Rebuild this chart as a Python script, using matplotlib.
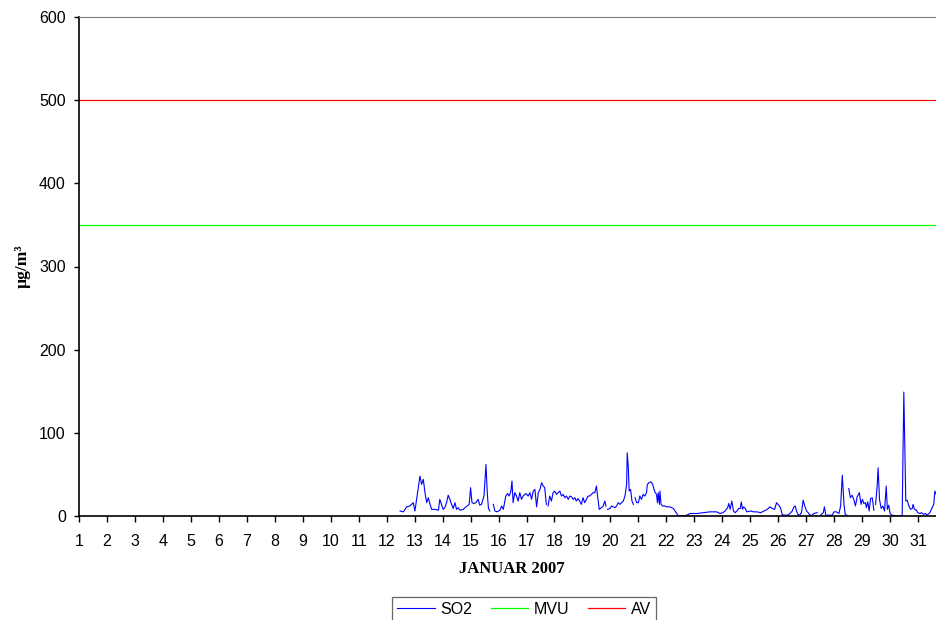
import matplotlib.pyplot as plt
import numpy as np

# hourly SO2 readings, January 2007 (day of month as fractional day), NaN = missing
day = [
    12.48, 12.60, 12.71, 12.83, 12.95, 13.01, 13.19, 13.25, 13.31, 13.37,
    13.43, 13.49, 13.55, 13.61, 13.73, 13.85, 13.90, 13.96, 14.02, 14.08,
    14.14, 14.20, 14.26, 14.32, 14.38, 14.44, 14.50, 14.56, 14.62, 14.74,
    14.80, 14.88, 14.95, 15.00, 15.05, 15.12, 15.19, 15.27, 15.33, 15.39,
    15.48, 15.55, 15.60, 15.64, 15.69, 15.74, 15.81, 15.87, 15.95, 16.05,
    16.11, 16.17, 16.26, 16.32, 16.38, 16.44, 16.48, 16.52, 16.58, 16.64,
    16.70, 16.76, 16.82, 16.88, 16.98, 17.06, 17.12, 17.18, 17.24, 17.30,
    17.36, 17.42, 17.48, 17.54, 17.60, 17.65, 17.71, 17.74, 17.77, 17.83,
    17.89, 17.95, 18.01, 18.07, 18.13, 18.19, 18.25, 18.31, 18.37, 18.43,
    18.49, 18.55, 18.61, 18.67, 18.73, 18.78, 18.84, 18.90, 18.96, 19.02,
    19.08, 19.14, 19.20, 19.26, 19.32, 19.38, 19.44, 19.50, 19.54, 19.60,
    19.68, 19.74, 19.80, 19.84, 19.87, 19.90, 19.98, 20.04, 20.16, 20.22,
    20.28, 20.34, 20.40, 20.46, 20.52, 20.58, 20.60, 20.64, 20.67, 20.72,
    20.77, 20.82, 20.85, 20.88, 20.94, 21.00, 21.05, 21.11, 21.17, 21.23,
    21.29, 21.32, 21.38, 21.45, 21.51, 21.56, 21.60, 21.65, 21.68, 21.71,
    21.75, 21.77, 21.81, 21.87, 21.95, 22.01, 22.13, 22.25, 22.35, 22.43,
    22.61, 22.73, 22.85, 23.09, 23.32, 23.56, 23.80, 23.92, 24.02, 24.10,
    24.19, 24.23, 24.28, 24.34, 24.40, 24.46, 24.52, 24.58, 24.64, 24.68,
    24.72, 24.76, 24.82, 24.88, 25.00, 25.12, 25.24, 25.37, 25.49, 25.61,
    25.70, 25.79, 25.87, 25.94, 26.02, 26.08, 26.14, 26.20, 26.32, 26.42,
    26.50, 26.56, 26.61, 26.65, 26.70, 26.77, 26.83, 26.89, 26.95, 27.01,
    27.07, 27.13, 27.21, 27.27, 27.39, 27.45, 27.51, 27.61, 27.65, 27.70,
    27.93, 27.99, 28.08, 28.17, 28.23, 28.29, 28.35, 28.40, 28.46, 28.49,
    28.52, 28.58, 28.64, 28.70, 28.76, 28.82, 28.90, 28.96, 29.01, 29.06,
    29.12, 29.15, 29.20, 29.25, 29.30, 29.36, 29.42, 29.45, 29.48, 29.54,
    29.57, 29.62, 29.68, 29.74, 29.80, 29.86, 29.90, 29.95, 30.00, 30.07,
    30.25, 30.43, 30.49, 30.56, 30.61, 30.67, 30.73, 30.79, 30.82, 30.87,
    30.94, 30.99, 31.06, 31.12, 31.20, 31.26, 31.32, 31.42, 31.50, 31.56,
    31.60, 31.65,
]
so2 = [
    6, 5, 11, 12, 16, 6, 48, 38, 44, 28,
    16, 22, 14, 8, 8, 7, 20, 14, 8, 10,
    16, 25, 20, 14, 9, 16, 8, 10, 7, 8,
    10, 12, 14, 34, 16, 15, 16, 20, 13, 14,
    24, 62, 26, 9, 6, np.nan, 14, 6, 5, 7,
    12, 8, 24, 27, 24, 30, 42, 16, 28, 24,
    18, 28, 20, 24, 27, 24, 28, 20, 30, 32,
    11, 28, 32, 40, 36, 34, 14, np.nan, 12, 24,
    18, 28, 30, 26, 28, 30, 24, 26, 22, 24,
    20, 24, 23, 20, 22, 18, 21, 18, 14, 22,
    16, 20, 24, 24, 26, 28, 28, 36, 24, 8,
    10, 12, 18, 12, np.nan, 8, 9, 12, 10, 12,
    16, 14, 16, 18, 24, 38, 76, 58, 30, 32,
    18, 14, np.nan, 22, 16, 16, 24, 20, 26, 24,
    28, 38, 40, 41, 38, 32, 28, 26, 16, 28,
    14, 30, 14, 12, 12, 11, 11, 9, 4, 0,
    0, 1, 3, 3, 4, 5, 5, 3, 4, 6,
    10, 15, 8, 18, 6, 4, 6, 9, 9, 17,
    8, 11, 9, 5, 6, 5, 5, 4, 6, 8,
    11, 9, 8, 16, 13, 10, 2, 1, 1, 3,
    6, 11, 12, 6, 2, 1, 4, 19, 12, 6,
    4, 1, 1, 3, 4, np.nan, 1, 4, 11, 1,
    1, 5, 5, 3, 12, 49, 14, 1, 1, np.nan,
    33, 22, 25, 20, 12, 23, 28, 14, 20, 15,
    16, 10, 17, 6, 21, 22, 7, np.nan, 14, 38,
    58, 20, 9, 12, 6, 36, 8, 13, 3, 1,
    0, 0, 149, 18, 19, 12, 8, 9, 14, 8,
    7, 4, 3, 4, 2, 3, 1, 4, 10, 14,
    30, 26,
]

mvu = 350  # limit value
av = 500   # alert value

fig = plt.figure(figsize=(9.36, 6.2), dpi=100)
ax = fig.add_axes([79 / 936, 1 - 516 / 620, 1 - 79 / 936, (516 - 17) / 620])

ax.plot(day, so2, color='#0000ff', linewidth=0.8, label='SO2')
ax.axhline(mvu, color='#00ff00', linewidth=0.9, label='MVU')
ax.axhline(av, color='#ff0000', linewidth=0.9, label='AV')

ax.set_xlim(1, 31.64)
ax.set_ylim(0, 600)
ax.set_xticks(np.arange(1, 32))
ax.set_yticks(np.arange(0, 601, 100))

for lbl in ax.get_xticklabels() + ax.get_yticklabels():
    lbl.set_family('Liberation Sans')
    lbl.set_fontsize(11.5)

ax.tick_params(axis='x', direction='out', length=4, width=1, pad=9)
ax.tick_params(axis='y', direction='out', length=3.5, width=1, pad=6)

ax.spines['right'].set_visible(False)
ax.spines['top'].set_color('#808080')
ax.spines['left'].set_linewidth(1.2)
ax.spines['bottom'].set_linewidth(1.2)

fig.text(512 / 936, 1 - 569 / 620, 'JANUAR 2007', ha='center', va='center',
         family='Liberation Serif', fontweight='bold', fontsize=12)
fig.text(23 / 936, 1 - 266 / 620, 'µg/m³', ha='center', va='center', rotation=90,
         family='Liberation Serif', fontweight='bold', fontsize=12.5)

leg = fig.legend(loc='upper center', bbox_to_anchor=(524 / 936, 1 - 597 / 620), ncol=3,
                 frameon=True, fancybox=False, edgecolor='#404040', handlelength=2.35,
                 columnspacing=1.15, handletextpad=0.35, borderpad=0.3, borderaxespad=0,
                 prop={'family': 'Liberation Sans', 'size': 11.5})
leg.get_frame().set_linewidth(0.9)

fig.savefig('out.png', dpi=100)
